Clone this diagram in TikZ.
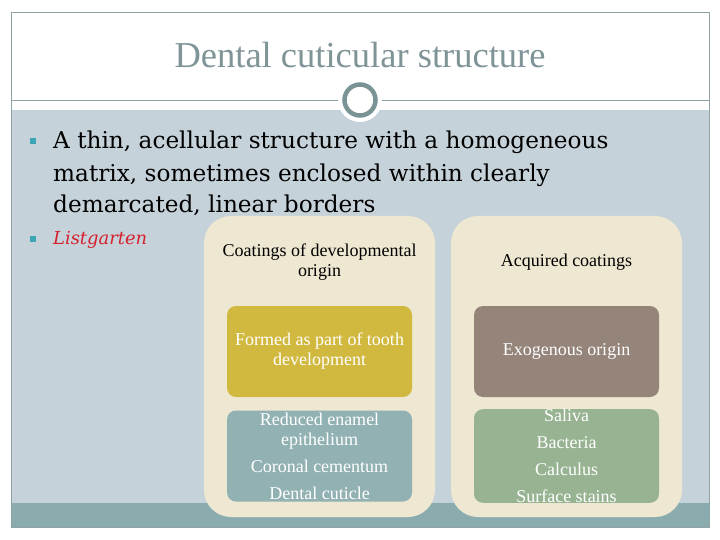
\documentclass[tikz,border=0pt]{standalone}
\usepackage{fontspec}
\setmainfont{Liberation Serif}
\newfontfamily\bodyfont{DejaVu Serif}
\usetikzlibrary{positioning}
\definecolor{band}{HTML}{C6D2D9}
\definecolor{footbar}{HTML}{8BACAE}
\definecolor{frameline}{HTML}{8FA3A5}
\definecolor{ringcol}{HTML}{7A9395}
\definecolor{titlecol}{HTML}{7F9497}
\definecolor{cream}{HTML}{EEE7D1}
\definecolor{gold}{HTML}{D1B940}
\definecolor{taupe}{HTML}{948479}
\definecolor{slate}{HTML}{92B1B2}
\definecolor{sage}{HTML}{97B392}
\definecolor{bulletcol}{HTML}{3DA6B5}
\definecolor{redtext}{HTML}{D5202F}

\begin{document}
\begin{tikzpicture}[
			x=1pt, y=-1pt,
			container/.style={rounded corners=27pt, fill=cream, minimum width=231pt, minimum height=301pt, inner sep=0pt},
			header/.style={font=\fontsize{18}{20}\selectfont, align=center, text=black},
			itembox/.style={rounded corners=9pt, minimum width=185pt, minimum height=91pt, inner sep=0pt, text=white, align=center, font=\fontsize{18}{20}\selectfont},
			bulletmark/.style={fill=bulletcol, minimum size=5.5pt, inner sep=0pt}
			]
			
			% Slide background
			\fill[white] (0,0) rectangle (720,540);
			\useasboundingbox (0,0) rectangle (720,540);
			\fill[band] (11,110) rectangle (709,503);
			\fill[footbar] (11,503) rectangle (709,527);
			\draw[frameline, line width=0.8pt] (11,12) rectangle (709,527);
			\draw[frameline, line width=0.8pt] (11,100) -- (340,100);
			\draw[frameline, line width=0.8pt] (380,100) -- (709,100);
			\fill[white] (360,100) circle (22);
			\draw[ringcol, line width=4.5pt, fill=white] (360,100) circle (15.5);
			
			% Title
			\node[text=titlecol, font=\fontsize{36.5}{40}\selectfont] (title) at (360,55) {Dental cuticular structure};
			
			% Bullets
			\node[bulletmark] (b1) at (33,141) {};
			\node[anchor=base west, align=left, inner sep=0pt, font=\bodyfont\fontsize{23.2}{32}\selectfont] (txt1) at (53,213) {A thin, acellular structure with a homogeneous\\ matrix, sometimes enclosed within clearly\\ demarcated, linear borders};
			\node[bulletmark] (b2) at (33,239) {};
			\node[anchor=base west, inner sep=0pt, text=redtext, font=\bodyfont\itshape\fontsize{17.9}{20}\selectfont] (txt2) at (53,244) {Listgarten};
			
			% Containers
			\node[container] (devel) at (319.5,366.5) {};
			\node[container] (acq) at (566.5,366.5) {};
			\node[header] (develhead) at (319.5,262) {Coatings of developmental\\ origin};
			\node[header] (acqhead) at (566.5,262) {Acquired coatings};
			
			% Inner boxes
			\node[itembox, fill=gold] (formed) at (319.5,351.5) {Formed as part of tooth\\ development};
			\node[itembox, fill=taupe] (exo) at (566.5,351.5) {Exogenous origin};
			\node[itembox, fill=slate] (develitems) at (319.5,456) {Reduced enamel\\ epithelium\\[7pt] Coronal cementum\\[7pt] Dental cuticle};
			\node[itembox, fill=sage] (acqitems) at (566.5,456) {Saliva\\[7pt] Bacteria\\[7pt] Calculus\\[7pt] Surface stains};
			
		\end{tikzpicture}
\end{document}
